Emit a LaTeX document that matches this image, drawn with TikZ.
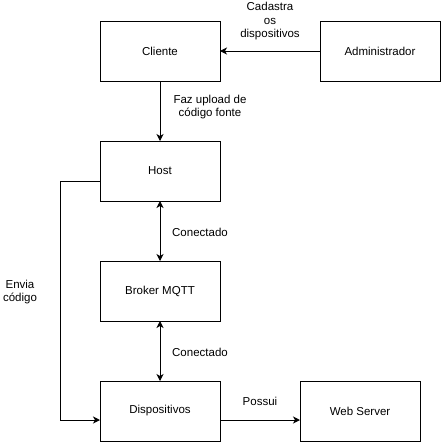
\documentclass[tikz,border=0pt]{standalone}
\usepackage{fontspec}
\setmainfont{Liberation Sans}
\usetikzlibrary{arrows.meta}
\begin{document}
\begin{tikzpicture}[x=1pt,y=-1pt,
  box/.style={draw,line width=1pt,minimum width=120pt,minimum height=60pt,inner sep=0pt,outer sep=0pt,font=\fontsize{11.5}{13.5}\selectfont},
  lbl/.style={align=center,inner sep=0pt,font=\fontsize{11.5}{13.5}\selectfont},
  conn/.style={line width=1pt,-{Stealth[length=7pt,width=7pt,inset=2pt]}},
  both/.style={line width=1pt,{Stealth[length=7pt,width=7pt,inset=2pt]}-{Stealth[length=7pt,width=7pt,inset=2pt]}}]
\useasboundingbox (0,0) rectangle (441,442);
\node[box] (cliente) at (160,51) {Cliente};
\node[box] (admin) at (380,51) {Administrador};
\node[box] (host) at (160,171) {Host};
\node[box] (broker) at (160,291) {Broker MQTT};
\node[box] (disp) at (160,411) {Dispositivos};
\node[box] (web) at (360,411) {Web Server};
\draw[conn] (admin.west) -- (cliente.east);
\draw[conn] (cliente.south) -- (host.north);
\draw[both] (host.south) -- (broker.north);
\draw[both] (broker.south) -- (disp.north);
\draw[conn] ([yshift=-9pt]disp.east) -- ([yshift=-9pt]web.west);
\draw[conn] ([yshift=-10pt]host.west) -- ++(-40,0) |- ([yshift=-9pt]disp.west);
\node[lbl] (l1) at (270,21.5) {Cadastra\\os\\dispositivos};
\node[lbl] (l2) at (210,107) {Faz upload de\\código fonte};
\node[lbl] (l3) at (200,232) {Conectado};
\node[lbl] (l4) at (200,352) {Conectado};
\node[lbl] (l5) at (260,401) {Possui};
\node[lbl] (l6) at (20,292) {Envia\\código};
\end{tikzpicture}
\end{document}
